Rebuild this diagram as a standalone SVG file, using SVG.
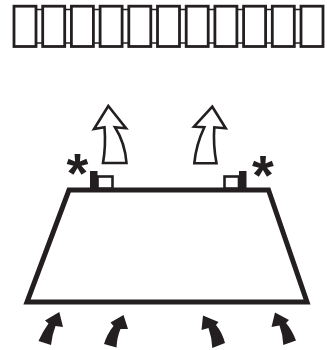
<svg xmlns="http://www.w3.org/2000/svg" width="327" height="350" viewBox="0 0 327 350">
<style>
.cell{fill:#fff;stroke:#231f20;stroke-width:2.8}
.link{fill:none;stroke:#231f20;stroke-width:1.4}
.hollow{fill:#fff;stroke:#231f20;stroke-width:2.6;stroke-linejoin:miter}
.solid{fill:#231f20;stroke:none}
.body{fill:#fff;stroke:#231f20;stroke-width:5;stroke-linejoin:miter}
.star{font-family:"Liberation Sans",Arial,sans-serif;font-weight:700;font-size:56px;fill:#231f20;text-anchor:middle}
</style>
<rect width="327" height="350" fill="#fff"/>
<g id="connectors">
<path class="link" d="M36 9.500H42.500M36 43H42.500M64.700 9.500H71.200M64.700 43H71.200M93.400 9.500H99.900M93.400 43H99.900M122.100 9.500H128.600M122.100 43H128.600M150.800 9.500H157.300M150.800 43H157.300M179.500 9.500H186M179.500 43H186M208.200 9.500H214.700M208.200 43H214.700M236.900 9.500H243.400M236.900 43H243.400M265.600 9.500H272.100M265.600 43H272.100M294.300 9.500H300.800M294.300 43H300.800"/>
</g>
<g id="cells">
<rect class="cell" x="14" y="6.200" width="22" height="40.300"/>
<rect class="cell" x="42.700" y="6.200" width="22" height="40.300"/>
<rect class="cell" x="71.400" y="6.200" width="22" height="40.300"/>
<rect class="cell" x="100.100" y="6.200" width="22" height="40.300"/>
<rect class="cell" x="128.800" y="6.200" width="22" height="40.300"/>
<rect class="cell" x="157.500" y="6.200" width="22" height="40.300"/>
<rect class="cell" x="186.200" y="6.200" width="22" height="40.300"/>
<rect class="cell" x="214.900" y="6.200" width="22" height="40.300"/>
<rect class="cell" x="243.600" y="6.200" width="22" height="40.300"/>
<rect class="cell" x="272.300" y="6.200" width="22" height="40.300"/>
<rect class="cell" x="301" y="6.200" width="22" height="40.300"/>
</g>
<g id="body"><path class="body" d="M69 190H268.500L307 302H27Z"/></g>
<g id="fixture-left">
<rect class="hollow" x="97.500" y="176.500" width="15" height="12"/>
<rect class="solid" x="90" y="171" width="7.500" height="18"/>
<text class="star" x="77.500" y="192">*</text>
</g>
<g id="fixture-right">
<rect class="hollow" x="224.500" y="176.500" width="14.500" height="12"/>
<rect class="solid" x="239" y="171" width="7.500" height="18"/>
<text class="star" x="263" y="194">*</text>
</g>
<g id="arrow-up-left"><path class="hollow" d="M108.300 106L94 129L104.500 127.300Q106 146 103 163H126.500Q125 143 115 127.300L126 128.300Z"/></g>
<g id="arrow-up-right"><path class="hollow" d="M212.300 106.700L194 126.700L204.300 127.300Q196 145 194.300 163.300H216.500Q213 145 214.300 127.300L225.700 128.300Z"/></g>
<g id="arrow-in-1"><path class="solid" d="M59.300 312L45 320.500L48.500 323.500Q43 331 38.500 341L51 345Q52 335 55.500 326L63 327Z"/></g>
<g id="arrow-in-2"><path class="solid" d="M123.500 315L110.500 322.500L113.500 326Q107 334 104 344L116.500 347.500Q117 337 120.500 329L128 329Z"/></g>
<g id="arrow-in-3"><path class="solid" d="M203 315.500L201.500 330L208.500 328Q212 338 212.300 348L225 343Q222 332 216 325L218.500 322Z"/></g>
<g id="arrow-in-4"><path class="solid" d="M275 312.500L271.500 327L279.500 325.500Q283 335 283.300 345L296 340.500Q292 330 286 323L289 320Z"/></g>
</svg>
